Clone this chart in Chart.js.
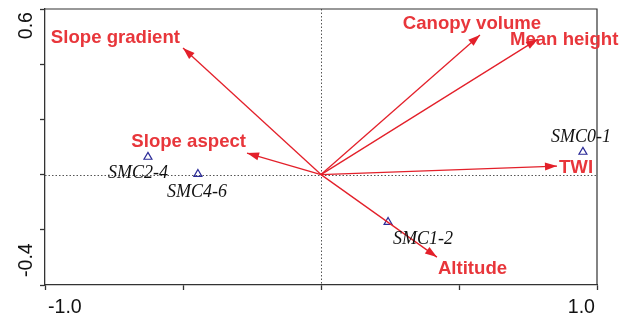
<!DOCTYPE html>
<html>
<head>
<meta charset="utf-8">
<script src="https://cdn.jsdelivr.net/npm/chart.js@4/dist/chart.umd.min.js"></script>
<style>
  html, body { margin: 0; padding: 0; background: #fff; }
  canvas { display: block; }
</style>
</head>
<body>
<canvas id="rda" width="630" height="320"></canvas>
<script>
// Environmental factors drawn as arrows from the origin (biplot scores)
const factorNames = ['Canopy volume', 'Mean height', 'TWI', 'Slope gradient', 'Slope aspect', 'Altitude'];
const factorX = [0.576, 0.786, 0.855, -0.500, -0.268, 0.420];
const factorY = [0.506, 0.491, 0.031, 0.459, 0.078, -0.299];

// Soil moisture layers drawn as triangles
const siteNames = ['SMC0-1', 'SMC1-2', 'SMC2-4', 'SMC4-6'];
const siteX = [0.949, 0.243, -0.627, -0.446];
const siteY = [0.082, -0.172, 0.064, 0.002];

// Axis values that carry a printed label
const xTickLabels = [-1.0, 1.0];
const yTickLabels = [-0.4, 0.6];

const ARROW_COLOR = '#e3202a';
const LABEL_RED = '#e8363b';
const SITE_COLOR = '#2b2b98';
const AXIS_COLOR = '#333333';

// Text placement around arrow tips / markers, in pixels
const factorLabelPlacement = {
  'Canopy volume':  { align: 'center', dx: -8,  dy: -6 },
  'Mean height':    { align: 'left',   dx: -28, dy: 6 },
  'TWI':            { align: 'left',   dx: 2,   dy: 7 },
  'Slope gradient': { align: 'right',  dx: -3,  dy: -5 },
  'Slope aspect':   { align: 'right',  dx: -1,  dy: -6 },
  'Altitude':       { align: 'left',   dx: 1,   dy: 17 }
};
const siteLabelPlacement = {
  'SMC0-1': { dx: -2,  dy: -10 },
  'SMC1-2': { dx: 35,  dy: 22 },
  'SMC2-4': { dx: -10, dy: 21 },
  'SMC4-6': { dx: -1,  dy: 23 }
};

const arrowDatasets = factorNames.map((name, i) => ({
  label: name,
  data: [{ x: 0, y: 0 }, { x: factorX[i], y: factorY[i] }],
  showLine: true,
  borderColor: ARROW_COLOR,
  borderWidth: 1.3,
  pointRadius: 0,
  pointHoverRadius: 0,
  fill: false
}));

const siteDataset = {
  label: 'Soil layers',
  data: siteNames.map((n, i) => ({ x: siteX[i], y: siteY[i] })),
  showLine: false,
  pointStyle: 'triangle',
  pointRadius: 4.6,
  pointHoverRadius: 4.6,
  borderColor: SITE_COLOR,
  borderWidth: 1.2,
  backgroundColor: 'rgba(0,0,0,0)'
};

const biplotDecor = {
  id: 'biplotDecor',
  beforeDatasetsDraw(chart) {
    const { ctx, chartArea: a, scales: { x, y } } = chart;
    const x0 = x.getPixelForValue(0), y0 = y.getPixelForValue(0);
    ctx.save();
    ctx.strokeStyle = '#555';
    ctx.lineWidth = 1;
    ctx.setLineDash([1.5, 2]);
    ctx.beginPath();
    ctx.moveTo(Math.round(x0) + 0.5, a.top);
    ctx.lineTo(Math.round(x0) + 0.5, a.bottom);
    ctx.moveTo(a.left, Math.round(y0) + 0.5);
    ctx.lineTo(a.right, Math.round(y0) + 0.5);
    ctx.stroke();
    ctx.restore();
  },
  afterDatasetsDraw(chart) {
    const { ctx, chartArea: a, scales: { x, y } } = chart;
    ctx.save();

    // top and right edges of the frame
    ctx.strokeStyle = AXIS_COLOR;
    ctx.lineWidth = 1.2;
    ctx.beginPath();
    ctx.moveTo(a.left, a.top);
    ctx.lineTo(a.right, a.top);
    ctx.lineTo(a.right, a.bottom);
    ctx.stroke();

    const ox = x.getPixelForValue(0), oy = y.getPixelForValue(0);

    // factor labels
    ctx.font = 'bold 18.6px "Liberation Sans", Arial, sans-serif';
    ctx.fillStyle = LABEL_RED;
    ctx.textBaseline = 'alphabetic';
    factorNames.forEach((name, i) => {
      const px = x.getPixelForValue(factorX[i]);
      const py = y.getPixelForValue(factorY[i]);
      const p = factorLabelPlacement[name];
      ctx.textAlign = p.align;
      ctx.fillText(name, px + p.dx, py + p.dy);
    });

    // arrowheads
    ctx.fillStyle = ARROW_COLOR;
    factorNames.forEach((name, i) => {
      const px = x.getPixelForValue(factorX[i]);
      const py = y.getPixelForValue(factorY[i]);
      const ang = Math.atan2(py - oy, px - ox);
      const len = 12, half = 4;
      const bx = px - len * Math.cos(ang), by = py - len * Math.sin(ang);
      ctx.beginPath();
      ctx.moveTo(px, py);
      ctx.lineTo(bx + half * Math.sin(ang), by - half * Math.cos(ang));
      ctx.lineTo(bx - half * Math.sin(ang), by + half * Math.cos(ang));
      ctx.closePath();
      ctx.fill();
    });

    // site labels
    ctx.font = 'italic 18px "Liberation Serif", "Times New Roman", serif';
    ctx.fillStyle = '#111';
    ctx.textAlign = 'center';
    siteNames.forEach((name, i) => {
      const px = x.getPixelForValue(siteX[i]);
      const py = y.getPixelForValue(siteY[i]);
      const p = siteLabelPlacement[name];
      ctx.fillText(name, px + p.dx, py + p.dy);
    });

    // axis tick labels
    ctx.font = '19.6px "Liberation Sans", Arial, sans-serif';
    ctx.fillStyle = '#111';
    xTickLabels.forEach((v, i) => {
      const px = x.getPixelForValue(v);
      const first = i === 0;
      ctx.textAlign = first ? 'left' : 'right';
      ctx.fillText(v.toFixed(1), px + (first ? 3 : -2), a.bottom + 28);
    });
    yTickLabels.forEach((v, i) => {
      const py = y.getPixelForValue(v);
      const first = i === 0;
      ctx.save();
      ctx.translate(32, py);
      ctx.rotate(-Math.PI / 2);
      ctx.textAlign = first ? 'left' : 'right';
      ctx.fillText(v.toFixed(1), first ? 8 : -3, 0);
      ctx.restore();
    });

    ctx.restore();
  }
};

new Chart(document.getElementById('rda'), {
  type: 'scatter',
  data: { datasets: [...arrowDatasets, siteDataset] },
  options: {
    responsive: false,
    devicePixelRatio: 1,
    animation: false,
    events: [],
    layout: { padding: { left: 0, top: 9, right: 33, bottom: 0 } },
    plugins: { legend: { display: false }, tooltip: { enabled: false } },
    scales: {
      x: {
        type: 'linear',
        min: -1, max: 1,
        ticks: { stepSize: 0.5, display: false },
        grid: { drawOnChartArea: false, drawTicks: true, tickLength: 5, tickColor: AXIS_COLOR, tickWidth: 1.3 },
        border: { display: true, color: AXIS_COLOR, width: 1.3 },
        afterFit(scale) { scale.height = 35; }
      },
      y: {
        type: 'linear',
        min: -0.4, max: 0.6,
        ticks: { stepSize: 0.2, display: false },
        grid: { drawOnChartArea: false, drawTicks: true, tickLength: 5, tickColor: AXIS_COLOR, tickWidth: 1.3 },
        border: { display: true, color: AXIS_COLOR, width: 1.3 },
        afterFit(scale) { scale.width = 45; }
      }
    }
  },
  plugins: [biplotDecor]
});
</script>
</body>
</html>
